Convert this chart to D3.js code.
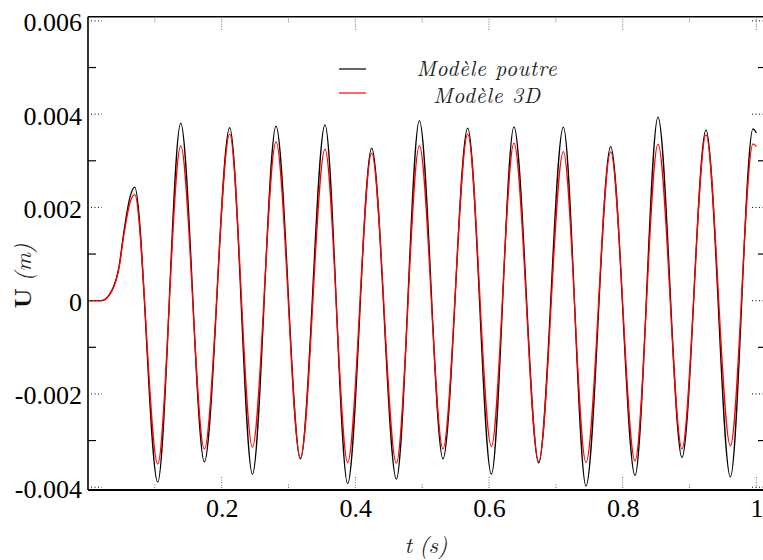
<!DOCTYPE html>
<html>
<head>
<meta charset="utf-8">
<script src="https://cdn.jsdelivr.net/npm/d3@7"></script>
<style>
  html, body { margin: 0; padding: 0; background: #fff; }
  svg { display: block; }
</style>
</head>
<body>
<svg id="chart" width="763" height="560"></svg>
<script>
// ---- Data ----
const times = [0, 0.020, 0.035, 0.0464, 0.0539, 0.0628, 0.0699,
  0.1043, 0.1387, 0.1741, 0.2120, 0.2460, 0.2813, 0.3178, 0.3546, 0.3885,
  0.4244, 0.4614, 0.4958, 0.5311, 0.5681, 0.6035, 0.6373, 0.6743, 0.7112,
  0.7451, 0.7820, 0.8184, 0.8528, 0.8887, 0.9246, 0.9611, 0.9949, 1.0000];
const modelePoutre = [0, 0, 0.00020, 0.00073, 0.00150, 0.00222, 0.002434,
  -0.003892, 0.003807, -0.003457, 0.003712, -0.003721, 0.003742, -0.003393, 0.003770, -0.003922,
  0.003270, -0.003828, 0.003862, -0.003393, 0.003699, -0.003721, 0.003727, -0.003478, 0.003721,
  -0.003972, 0.003305, -0.003751, 0.003935, -0.003365, 0.003656, -0.003779, 0.003684, 0.003600];
const modele3D = [0, 0, 0.00019, 0.00070, 0.00143, 0.00210, 0.002275,
  -0.003506, 0.003320, -0.003185, 0.003571, -0.003142, 0.003405, -0.003378, 0.003249, -0.003472,
  0.003163, -0.003485, 0.003326, -0.003178, 0.003571, -0.003129, 0.003378, -0.003446, 0.003198,
  -0.003472, 0.003191, -0.003436, 0.003356, -0.003178, 0.003556, -0.003114, 0.003363, 0.003305];
const seriesNames = ["Modèle poutre", "Modèle 3D"];
const seriesColors = ["#000000", "#ff0000"];
const yMajorTicks = [-0.004, -0.002, 0, 0.002, 0.004, 0.006];
const yMinorTicks = [-0.003, -0.001, 0.001, 0.003, 0.005];
const xMajorTicks = [0.2, 0.4, 0.6, 0.8, 1.0];
const xMinorTicks = [0.1, 0.3, 0.5, 0.7, 0.9];

// ---- Layout ----
const pL = 88, pR = 766, pT = 16.7, pB = 490;
const tickFont = "'Liberation Serif', 'Times New Roman', serif";
const mathFont = "'Latin Modern Roman', 'Liberation Serif', serif";
const svg = d3.select("#chart");
const x = d3.scaleLinear().domain([0, 1.0144]).range([pL, pR]);
const y = d3.scaleLinear().domain([-0.00406, 0.00609]).range([pB, pT]);

const fmtY = d => d === 0 ? "0" : d.toFixed(3);
const fmtX = d => d === 1 ? "1" : String(+d.toFixed(1));

svg.append("defs").append("clipPath").attr("id", "clip")
  .append("rect").attr("x", pL).attr("y", pT).attr("width", pR - pL).attr("height", pB - pT);

// curves
const series = [modelePoutre, modele3D];
const line = d3.line()
  .x(d => x(d[0]))
  .y(d => y(d[1]))
  .curve(d3.curveMonotoneX);
series.forEach((vals, i) => {
  svg.append("path")
    .attr("clip-path", "url(#clip)")
    .attr("d", line(times.map((t, k) => [t, vals[k]])))
    .attr("fill", "none")
    .attr("stroke", seriesColors[i])
    .attr("stroke-width", 1.3);
});

// ---- Ticks ----
const tg = svg.append("g");
yMajorTicks.forEach(v => {
  tg.append("line").attr("x1", pL + 3).attr("x2", pL + 14).attr("y1", y(v)).attr("y2", y(v))
    .attr("stroke", "#000").attr("stroke-width", 1).attr("stroke-dasharray", "1,2.5");
  tg.append("line").attr("x1", pR - 14).attr("x2", pR - 3).attr("y1", y(v)).attr("y2", y(v))
    .attr("stroke", "#000").attr("stroke-width", 1).attr("stroke-dasharray", "1,2.5");
});
yMinorTicks.forEach(v => {
  tg.append("line").attr("x1", pL).attr("x2", pL + 8).attr("y1", y(v)).attr("y2", y(v))
    .attr("stroke", "#000").attr("stroke-width", 1.2);
  tg.append("line").attr("x1", pR - 8).attr("x2", pR).attr("y1", y(v)).attr("y2", y(v))
    .attr("stroke", "#000").attr("stroke-width", 1.2);
});
xMajorTicks.forEach(v => {
  tg.append("line").attr("x1", x(v)).attr("x2", x(v)).attr("y1", pB - 2).attr("y2", pB - 13)
    .attr("stroke", "#666").attr("stroke-width", 1).attr("stroke-dasharray", "1,1.5");
  tg.append("line").attr("x1", x(v)).attr("x2", x(v)).attr("y1", pT + 2).attr("y2", pT + 13)
    .attr("stroke", "#666").attr("stroke-width", 1).attr("stroke-dasharray", "1,1.5");
});
xMinorTicks.forEach(v => {
  tg.append("line").attr("x1", x(v)).attr("x2", x(v)).attr("y1", pB - 2).attr("y2", pB - 6)
    .attr("stroke", "#666").attr("stroke-width", 1).attr("stroke-dasharray", "1,1.5");
  tg.append("line").attr("x1", x(v)).attr("x2", x(v)).attr("y1", pT + 2).attr("y2", pT + 6)
    .attr("stroke", "#666").attr("stroke-width", 1).attr("stroke-dasharray", "1,1.5");
});

// ---- Axes (labels via d3 axis generators) ----
const yAxis = svg.append("g").attr("transform", `translate(${pL},0)`)
  .call(d3.axisLeft(y).tickValues(yMajorTicks).tickFormat(fmtY).tickSize(0).tickPadding(6));
yAxis.select(".domain").remove();
yAxis.selectAll("text")
  .attr("font-family", tickFont)
  .attr("font-size", 26).attr("fill", "#000")
  .attr("dy", "0.38em");

const xAxis = svg.append("g").attr("transform", `translate(0,${pB})`)
  .call(d3.axisBottom(x).tickValues(xMajorTicks).tickFormat(fmtX).tickSize(0).tickPadding(9));
xAxis.select(".domain").remove();
xAxis.selectAll("text")
  .attr("font-family", tickFont)
  .attr("font-size", 26).attr("fill", "#000");

// frame lines
svg.append("line").attr("x1", pL).attr("x2", pL).attr("y1", pT).attr("y2", pB)
  .attr("stroke", "#000").attr("stroke-width", 1.6);
svg.append("line").attr("x1", pL).attr("x2", pR).attr("y1", pB).attr("y2", pB)
  .attr("stroke", "#000").attr("stroke-width", 1.8);
svg.append("line").attr("x1", pL).attr("x2", pR).attr("y1", pT).attr("y2", pT)
  .attr("stroke", "#000").attr("stroke-width", 1.4);
svg.append("line").attr("x1", pR).attr("x2", pR).attr("y1", pT).attr("y2", pB)
  .attr("stroke", "#000").attr("stroke-width", 1.4);

// ---- Axis titles ----
const xt = svg.append("text")
  .attr("x", 426).attr("y", 553)
  .attr("text-anchor", "middle")
  .attr("font-family", mathFont)
  .attr("font-size", 23).attr("font-style", "italic").attr("fill", "#222");
xt.append("tspan").text("t");
xt.append("tspan").attr("dx", 7).text("(s)");

const yt = svg.append("text")
  .attr("transform", "translate(31,276) rotate(-90)")
  .attr("text-anchor", "middle")
  .attr("font-family", mathFont)
  .attr("font-size", 23).attr("fill", "#111");
yt.append("tspan").attr("font-weight", "bold").text("U");
yt.append("tspan").attr("dx", 7).attr("font-style", "italic").attr("fill", "#222").text("(m)");

// ---- Legend ----
const legendY = [69, 93];
const legendTextY = [76, 103];
seriesNames.forEach((name, i) => {
  svg.append("line").attr("x1", 339).attr("x2", 366).attr("y1", legendY[i]).attr("y2", legendY[i])
    .attr("stroke", seriesColors[i]).attr("stroke-width", 1.2);
  svg.append("text").attr("x", 487).attr("y", legendTextY[i])
    .attr("text-anchor", "middle")
    .attr("font-family", mathFont)
    .attr("font-size", 21.5).attr("font-style", "italic").attr("letter-spacing", 0.8)
    .attr("fill", "#222")
    .text(name);
});
</script>
</body>
</html>
